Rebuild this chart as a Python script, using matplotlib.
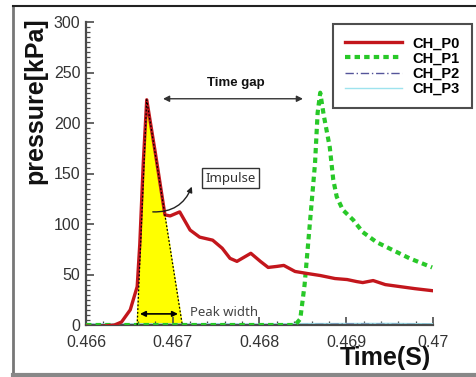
import matplotlib
matplotlib.use("Agg")
import matplotlib.pyplot as plt
from matplotlib.ticker import MultipleLocator, FixedLocator, FixedFormatter
from matplotlib.lines import Line2D

# ---- data ----
t_p0 = [0.46600, 0.46610, 0.46622, 0.46633, 0.46641, 0.46651, 0.46659, 0.46662,
        0.46666, 0.46670, 0.46680, 0.46691, 0.46697, 0.46708, 0.46720, 0.46731,
        0.46746, 0.46757, 0.46766, 0.46774, 0.46780, 0.46790, 0.46801, 0.46810,
        0.46820, 0.46828, 0.46841, 0.46855, 0.46870, 0.46887, 0.46901, 0.46912,
        0.46919, 0.46931, 0.46945, 0.46962, 0.46979, 0.46999]
p_p0 = [-1, -2, -1, 0, 3, 15, 38, 80,
        160, 223, 170, 109, 108, 112, 94, 87,
        84, 76, 66, 63, 66, 71, 63, 57,
        58, 59, 53, 51, 49, 46, 45, 43,
        42, 44, 40, 38, 36, 34]

t_p1 = [0.46600, 0.46841, 0.46847, 0.46852, 0.46858, 0.46864, 0.46867, 0.46870,
        0.46874, 0.46881, 0.46885, 0.46889, 0.46896, 0.46908, 0.46919, 0.46935,
        0.46954, 0.46973, 0.46999]
p_p1 = [0, 0, 6, 40, 100, 160, 210, 230,
        208, 176, 144, 127, 114, 104, 92, 82,
        74, 66, 57]

t_p23 = [0.4660, 0.4665, 0.4670, 0.4675, 0.4680, 0.4685, 0.4690, 0.4695, 0.4700]
p_p2 = [0.5, 0.0, 0.5, 0.3, -0.2, 0.4, 0.8, 0.6, 0.4]
p_p3 = [1.0, 1.2, 1.0, 1.3, 1.0, 1.4, 1.5, 1.6, 1.2]

series_names = ["CH_P0", "CH_P1", "CH_P2", "CH_P3"]

tri_t = [0.46659, 0.46670, 0.46711]
tri_p = [0, 223, 0]

xticks = [0.466, 0.467, 0.468, 0.469, 0.470]
xtick_labels = ["0.466", "0.467", "0.468", "0.469", "0.47"]
yticks = [0, 50, 100, 150, 200, 250, 300]

# ---- figure ----
W, H = 477, 377
fig = plt.figure(figsize=(W / 100, H / 100), dpi=100)
plt.rcParams['font.family'] = ['Liberation Sans', 'DejaVu Sans']

def fx(px):
    return px / W

def fy(py):
    return 1 - py / H

ax = fig.add_axes([fx(86), fy(325), (433 - 86) / W, (325 - 22) / H])
ax.set_xlim(0.466, 0.470)
ax.set_ylim(0, 300)

# impulse triangle
ax.fill(tri_t, tri_p, color="#ffff00", zorder=1)

c_red = "#c3161c"
c_green = "#28c828"
c_p2 = "#55559a"
c_p3 = "#9ee3ee"

ax.plot(t_p23, p_p3, color=c_p3, lw=1.0, zorder=2)
ax.plot(t_p23, p_p2, color=c_p2, lw=1.0, ls=(0, (6, 2, 1, 2)), zorder=2)
ax.plot(t_p1, p_p1, color=c_green, lw=3.0, ls=(0, (1.3, 1.0)), zorder=3)
ax.plot(t_p0, p_p0, color=c_red, lw=2.4, zorder=4)
ax.plot(tri_t, tri_p, color="black", lw=0.9, ls=(0, (1.5, 1.5)), zorder=5)

# axes styling
for s in ["top", "right"]:
    ax.spines[s].set_visible(False)
for s in ["left", "bottom"]:
    ax.spines[s].set_linewidth(1.6)
    ax.spines[s].set_color("#4a4a4a")
ax.xaxis.set_major_locator(FixedLocator(xticks))
ax.xaxis.set_major_formatter(FixedFormatter(xtick_labels))
ax.xaxis.set_minor_locator(MultipleLocator(0.0002))
ax.yaxis.set_major_locator(FixedLocator(yticks))
ax.yaxis.set_minor_locator(MultipleLocator(5))
ax.tick_params(which="major", direction="in", length=6, width=1.2, color="#4a4a4a",
               labelsize=11.5, labelcolor="#333333")
ax.tick_params(axis="x", which="major", pad=7)
ax.tick_params(axis="y", which="major", pad=4)
ax.tick_params(which="minor", direction="in", length=3, width=0.9, color="#4a4a4a")
ax.patch.set_alpha(0)

# labels
fig.text(fx(35), fy(101), "pressure[kPa]", rotation=90, fontsize=18, fontweight="bold",
         ha="center", va="center", color="#111111")
fig.text(fx(385), fy(358), "Time(S)", fontsize=18, fontweight="bold",
         ha="center", va="center", color="#111111")

# annotations
ax.annotate("", xy=(0.466888, 224), xytext=(0.468501, 224),
            arrowprops=dict(arrowstyle="<|-|>", color="#333333", lw=1.0,
                            mutation_scale=9, shrinkA=0, shrinkB=0))
ax.text(0.46773, 240, "Time gap", fontsize=9.5, fontweight="bold",
        ha="center", va="center", color="#111111")

ax.annotate("", xy=(0.466622, 11), xytext=(0.467060, 11),
            arrowprops=dict(arrowstyle="<|-|>", color="black", lw=1.2,
                            mutation_scale=8, shrinkA=0, shrinkB=0), zorder=6)
ax.text(0.46720, 12, "Peak width", fontsize=9.5, family=["Noto Sans", "DejaVu Sans"],
        ha="left", va="center", color="#444444")

ax.text(0.46767, 145.5, "Impulse", fontsize=9.5, family=["Noto Sans", "DejaVu Sans"],
        ha="center", va="center", color="#333333",
        bbox=dict(boxstyle="square,pad=0.25", fc="white", ec="#333333", lw=1.0))
ax.annotate("", xy=(0.46722, 137), xytext=(0.46677, 112),
            arrowprops=dict(arrowstyle="-|>", color="#222222", lw=1.0,
                            mutation_scale=8, shrinkA=0, shrinkB=0,
                            connectionstyle="arc3,rad=0.35"), zorder=6)

# legend
handles = [
    Line2D([], [], color=c_red, lw=2.4),
    Line2D([], [], color=c_green, lw=3.0, ls=(0, (1.3, 1.0))),
    Line2D([], [], color=c_p2, lw=1.0, ls=(0, (6, 2, 1, 2))),
    Line2D([], [], color=c_p3, lw=1.0),
]
leg = fig.legend(handles, series_names, loc="upper left",
                 bbox_to_anchor=(fx(333), fy(24)), bbox_transform=fig.transFigure,
                 prop=dict(weight="bold", size=10.5), frameon=True, fancybox=False,
                 handlelength=3.9, handletextpad=0.7, labelspacing=0.08,
                 borderpad=0.85, borderaxespad=0)
leg.get_frame().set_edgecolor("#222222")
leg.get_frame().set_linewidth(1.5)

# outer frame (left, top, bottom)
fig.add_artist(Line2D([fx(13), fx(13)], [fy(6), fy(375)], color="#777777", lw=2,
                      transform=fig.transFigure))
fig.add_artist(Line2D([fx(13), 1], [fy(6), fy(6)], color="#222222", lw=1.5,
                      transform=fig.transFigure))
fig.add_artist(Line2D([fx(13), 1], [fy(375), fy(375)], color="#888888", lw=3,
                      transform=fig.transFigure))

fig.savefig("out.png", dpi=100)
